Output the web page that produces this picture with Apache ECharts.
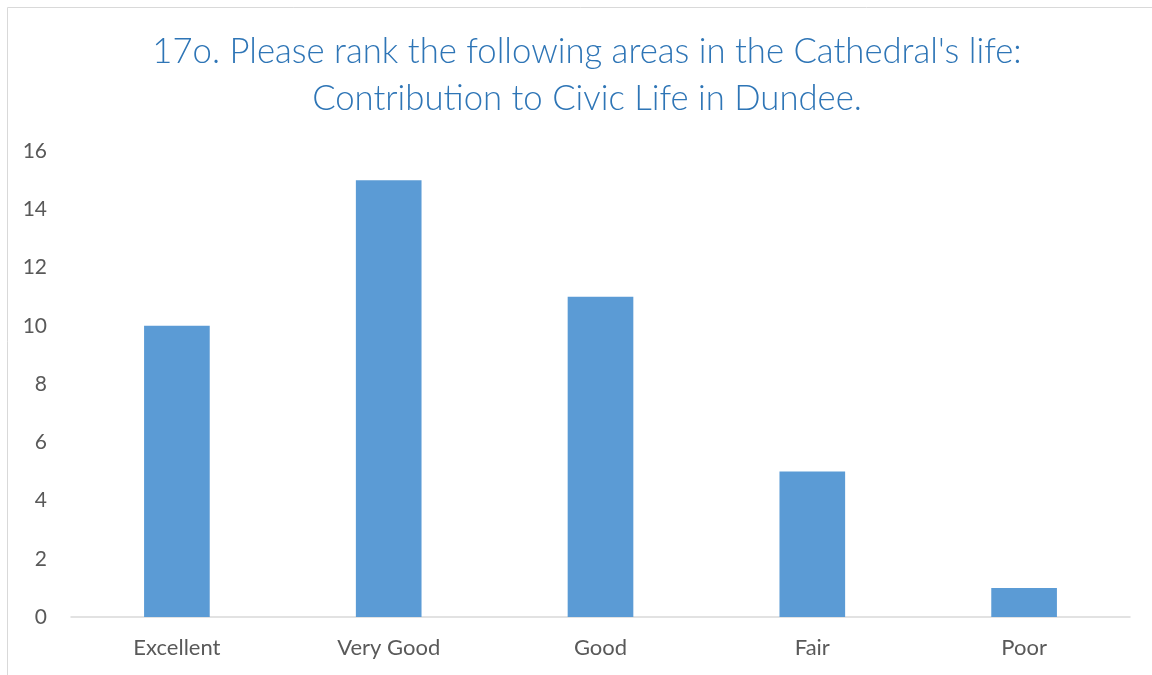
<!DOCTYPE html>
<html><head><meta charset="utf-8">
<script src="https://cdn.jsdelivr.net/npm/echarts@6/dist/echarts.min.js"></script>
<style>html,body{margin:0;padding:0;background:#fff}#c{width:1152px;height:675px}</style>
</head><body><div id="c"></div>
<script>
const categories = ["Excellent", "Very Good", "Good", "Fair", "Poor"];
const values = [10, 15, 11, 5, 1];
const titleLines = ["17o. Please rank the following areas in the Cathedral's life:", "Contribution to Civic Life in Dundee."];

const chart = echarts.init(document.getElementById('c'));
chart.setOption({
  animation: false,
  title: {
    text: titleLines.join('\n'),
    left: 582, top: 23, textAlign: 'center',
    textStyle: { fontFamily: 'Lato', fontWeight: 300, fontSize: 34.7, color: '#2E75B6', lineHeight: 47 }
  },
  graphic: [{ type: 'rect', shape: { x: 7.5, y: 7.5, width: 1200, height: 700 }, style: { fill: 'none', stroke: '#D9D9D9', lineWidth: 1 } }],
  grid: { left: 71, right: 22, top: 151, bottom: 58 },
  xAxis: {
    type: 'category', data: categories,
    axisLine: { lineStyle: { color: '#D9D9D9', width: 1.5 } },
    axisTick: { show: false },
    axisLabel: { color: '#595959', fontFamily: 'Lato', fontSize: 22, margin: 20 }
  },
  yAxis: {
    type: 'value', min: 0, max: 16, interval: 2,
    axisLine: { show: false }, axisTick: { show: false },
    splitLine: { show: false },
    axisLabel: { color: '#595959', fontFamily: 'Lato', fontSize: 21, margin: 24 }
  },
  series: [{ type: 'bar', data: values, barWidth: '31%', itemStyle: { color: '#5B9BD5' } }]
});
</script></body></html>
